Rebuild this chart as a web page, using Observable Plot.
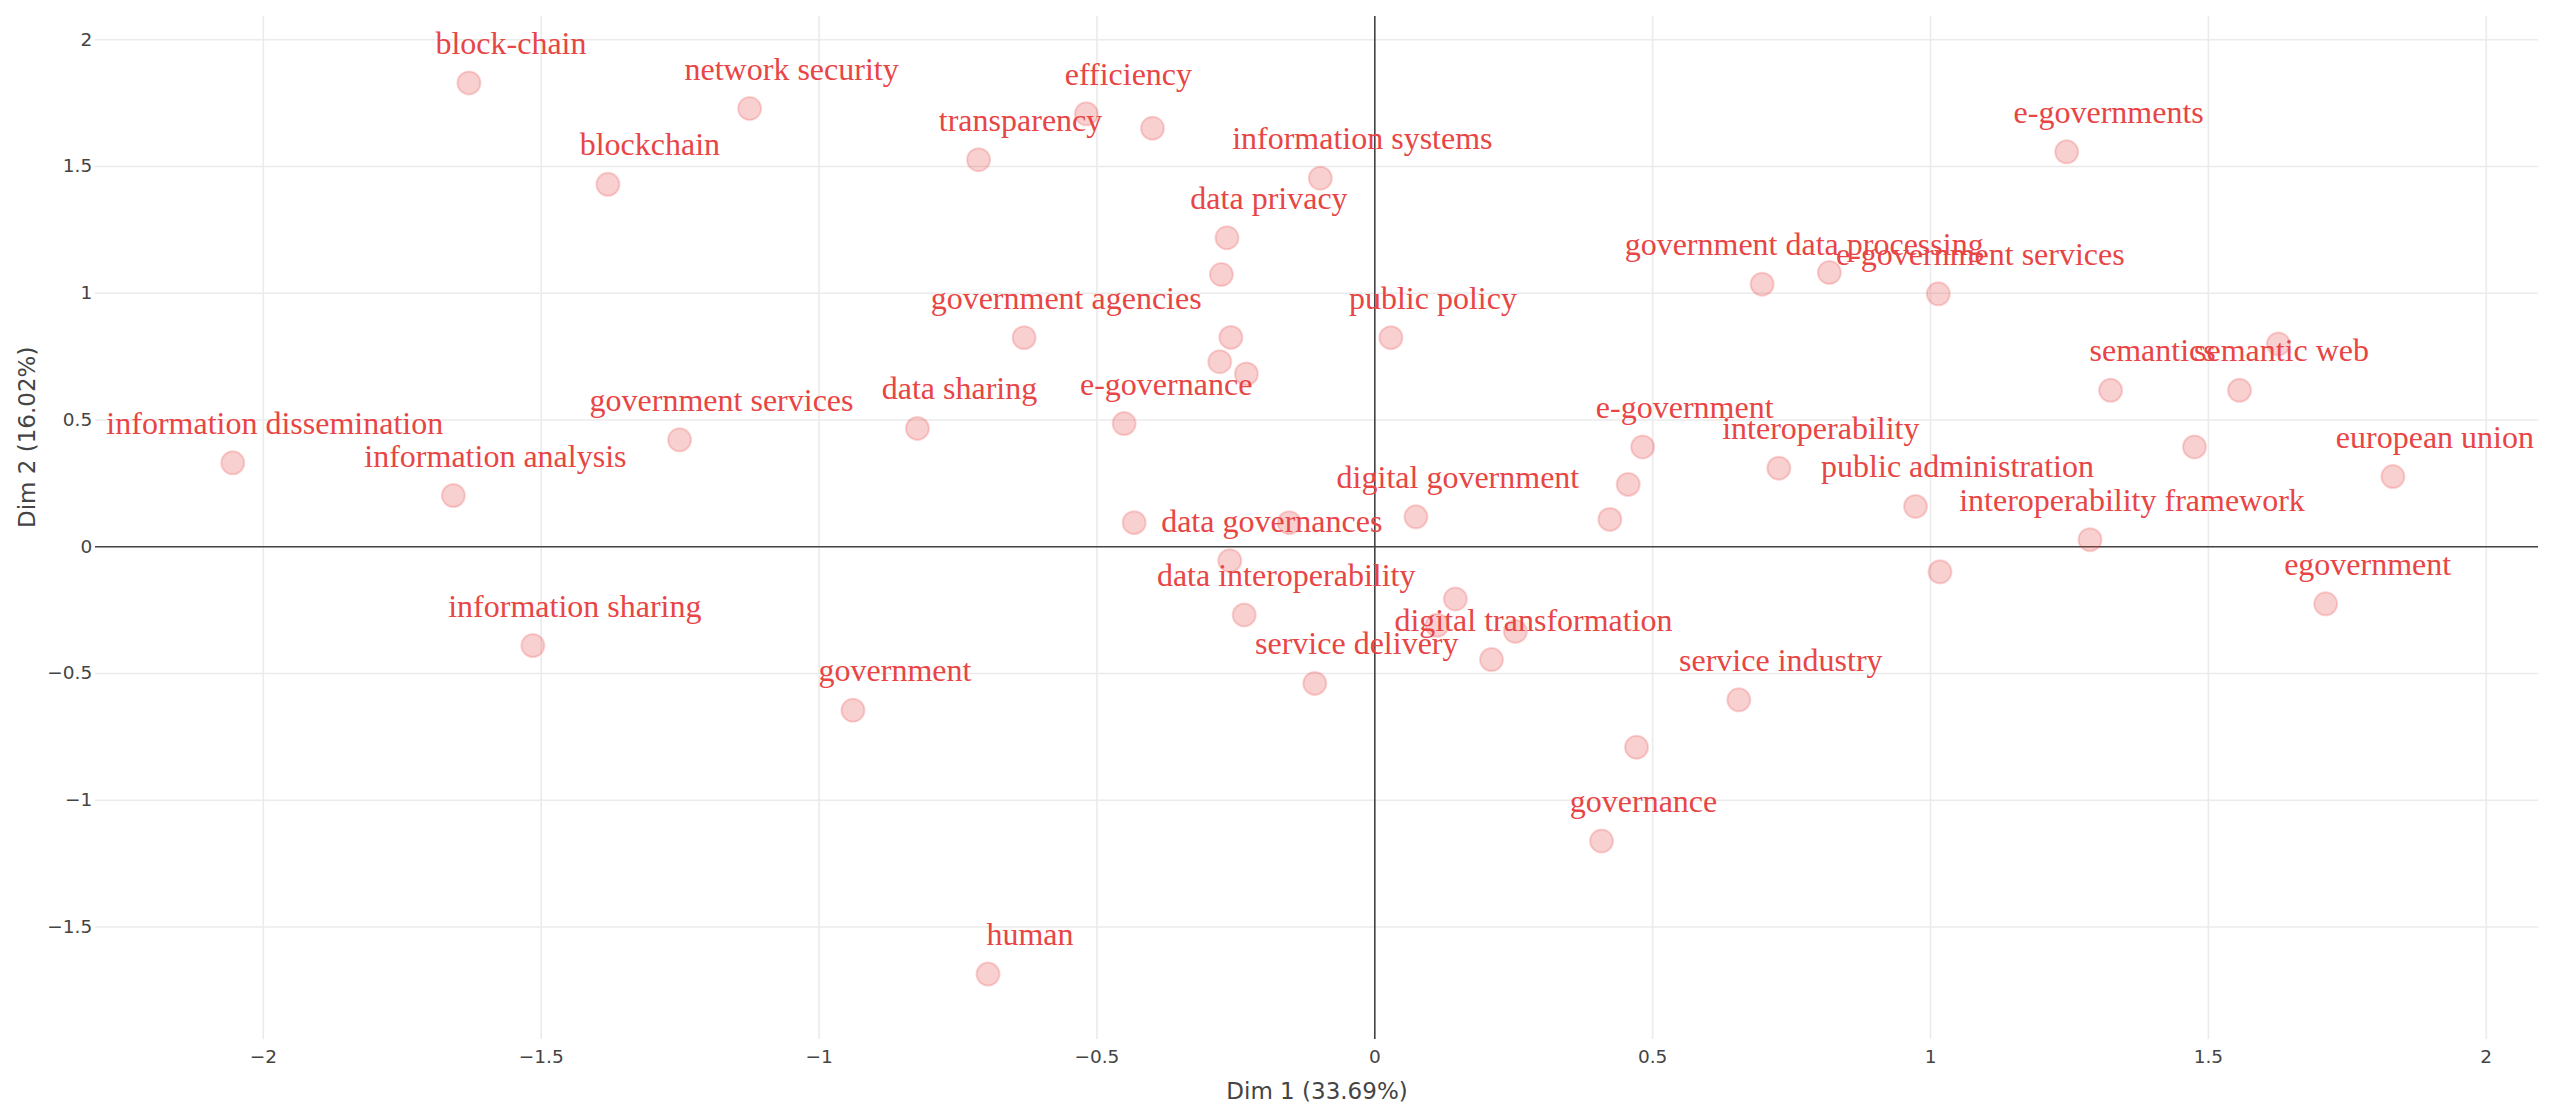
<!DOCTYPE html>
<html>
<head>
<meta charset="utf-8">
<script src="https://cdn.jsdelivr.net/npm/d3@7"></script>
<script src="https://cdn.jsdelivr.net/npm/@observablehq/plot@0.6"></script>
<style>
  body { margin: 0; background: #fff; }
</style>
</head>
<body>
<div id="chart"></div>
<script>
// Correspondence analysis of keywords: coordinates on the first two dimensions.
// A null term marks a point whose label is not shown.
const terms = [
  "block-chain", "network security", "blockchain", "information dissemination",
  "information analysis", "government services", "efficiency", "transparency",
  "information systems", "data privacy", "government agencies", "public policy",
  "data sharing", "e-governance", "digital government", "data governances",
  "e-government", "interoperability", "e-governments", "government data processing",
  "e-government services", "semantics", "semantic web", "european union",
  "public administration", "interoperability framework", "egovernment", "service industry",
  "data interoperability", "digital transformation", "service delivery", "government",
  "information sharing", "human", "governance",
  null, null, null, null, null, null, null, null, null,
  null, null, null, null, null, null, null, null
];
const dim1 = [
  -1.630, -1.125, -1.380, -2.055,
  -1.658, -1.251, -0.519, -0.713,
  -0.098, -0.266, -0.631, 0.029,
  -0.823, -0.451, 0.074, -0.261,
  0.482, 0.727, 1.245, 0.697,
  1.014, 1.324, 1.556, 1.832,
  0.973, 1.287, 1.711, 0.655,
  -0.235, 0.210, -0.108, -0.939,
  -1.515, -0.696, 0.408,
  -0.400, -0.276, -0.259, -0.279, -0.231, -0.433, -0.154, 0.456, 0.423,
  0.818, 1.626, 1.475, 1.017, 0.145, 0.112, 0.253, 0.471
];
const dim2 = [
  1.830, 1.729, 1.430, 0.331,
  0.202, 0.422, 1.708, 1.527,
  1.454, 1.219, 0.825, 0.825,
  0.467, 0.486, 0.118, -0.055,
  0.394, 0.310, 1.558, 1.036,
  0.998, 0.617, 0.617, 0.277,
  0.159, 0.028, -0.225, -0.604,
  -0.269, -0.445, -0.539, -0.645,
  -0.390, -1.686, -1.161,
  1.651, 1.074, 0.826, 0.730, 0.682, 0.095, 0.095, 0.246, 0.108,
  1.082, 0.800, 0.394, -0.099, -0.206, -0.310, -0.334, -0.791
];

const xTicks = [-2, -1.5, -1, -0.5, 0, 0.5, 1, 1.5, 2];
const yTicks = [-1.5, -1, -0.5, 0, 0.5, 1, 1.5, 2];
const xTitle = "Dim 1 (33.69%)";
const yTitle = "Dim 2 (16.02%)";

const points = terms.map((term, i) => ({term, x: dim1[i], y: dim2[i]}));
const labelled = points.filter(d => d.term !== null);

const red = "#e84545";
const axisInk = "#444";
const axisFont = "'DejaVu Sans', Verdana, sans-serif";
const fmt = d3.format("~g");

const chart = Plot.plot({
  width: 2560,
  height: 1115,
  marginLeft: 95,
  marginRight: 22,
  marginTop: 16,
  marginBottom: 76,
  x: {domain: [-2.302, 2.094]},
  y: {domain: [-1.944, 2.092]},
  style: {background: "#fff", fontFamily: axisFont, color: axisInk},
  marks: [
    Plot.gridX(xTicks, {stroke: "#ebebeb", strokeOpacity: 1, strokeWidth: 1.6}),
    Plot.gridY(yTicks, {stroke: "#ebebeb", strokeOpacity: 1, strokeWidth: 1.6}),
    Plot.ruleX([0], {stroke: axisInk, strokeWidth: 1.6}),
    Plot.ruleY([0], {stroke: axisInk, strokeWidth: 1.6}),
    Plot.axisX(xTicks, {tickSize: 0, tickPadding: 10, fontSize: 18.5, fontFamily: axisFont, tickFormat: fmt, label: null, fill: axisInk}),
    Plot.axisY(yTicks, {tickSize: 0, tickPadding: 3.3, fontSize: 18.5, fontFamily: axisFont, tickFormat: fmt, label: null, fill: axisInk}),
    Plot.text([xTitle], {frameAnchor: "bottom", dy: 59, lineAnchor: "bottom", fontSize: 23, fontFamily: axisFont, fill: axisInk}),
    Plot.text([yTitle], {frameAnchor: "left", dx: -61, rotate: -90, lineAnchor: "bottom", fontSize: 23, fontFamily: axisFont, fill: axisInk}),
    Plot.dot(points, {
      x: "x", y: "y", r: 11.5,
      fill: red, fillOpacity: 0.25,
      stroke: red, strokeOpacity: 0.22, strokeWidth: 2
    }),
    Plot.text(labelled, {
      x: "x", y: "y", text: "term",
      dx: 42, dy: -29, lineAnchor: "bottom", textAnchor: "middle",
      fontSize: 32, fontFamily: "'Liberation Serif', 'Times New Roman', serif",
      fill: red
    })
  ]
});

document.getElementById("chart").appendChild(chart);
</script>
</body>
</html>
